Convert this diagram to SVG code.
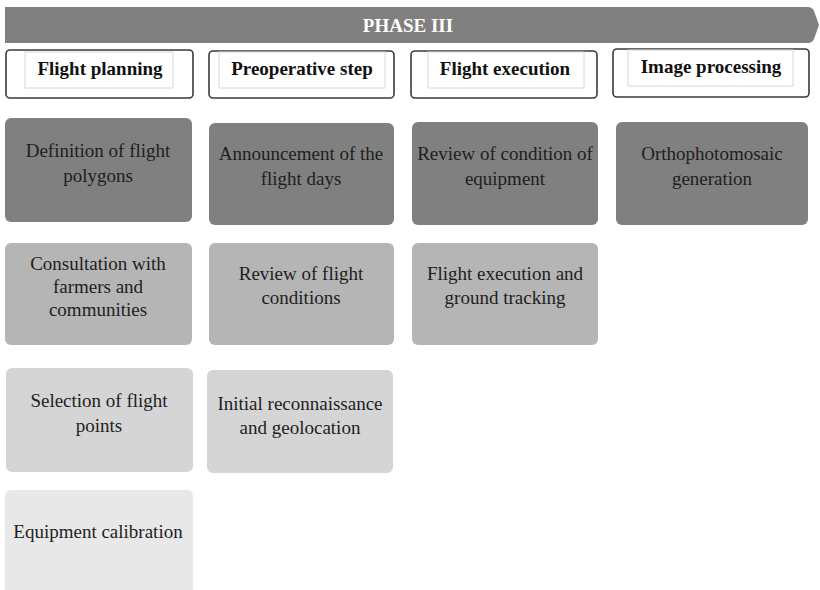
<svg xmlns="http://www.w3.org/2000/svg" width="820" height="590" viewBox="0 0 820 590">
<style>
.t{font-family:"Liberation Serif","Times New Roman",serif;font-size:19px;fill:#1e1e1e;text-anchor:middle}
.h{font-family:"Liberation Serif","Times New Roman",serif;font-size:19px;font-weight:bold;fill:#111;text-anchor:middle}
.hb{fill:#fff;stroke:#3a3a3a;stroke-width:1.6}
.hi{fill:none;stroke:#d8d8d8;stroke-width:1}
.r1{fill:#808080}
.r2{fill:#b5b5b5}
.r3{fill:#d5d5d5}
.r4{fill:#e8e8e8}
</style>
<rect width="820" height="590" fill="#fff"/>
<g id="phase">
<path d="M5 7 H808 Q812 7 814 11 L819 25 L814 39 Q812 43 808 43 H5 Z" fill="#808080"/>
<text x="408" y="32" font-family="Liberation Serif, serif" font-size="19" font-weight="bold" fill="#fff" text-anchor="middle">PHASE III</text>
</g>
<g id="h1"><rect class="hb" x="6" y="50" width="187" height="48" rx="4"/><rect class="hi" x="25" y="52" width="148" height="36"/><text class="h" x="100" y="75">Flight planning</text></g>
<g id="h2"><rect class="hb" x="209" y="51" width="185" height="47" rx="4"/><rect class="hi" x="219" y="52" width="166" height="36"/><text class="h" x="302" y="75">Preoperative step</text></g>
<g id="h3"><rect class="hb" x="411" y="51" width="186" height="47" rx="4"/><rect class="hi" x="428" y="52" width="156" height="36"/><text class="h" x="505" y="75">Flight execution</text></g>
<g id="h4"><rect class="hb" x="613" y="49" width="196" height="48" rx="4"/><rect class="hi" x="628" y="50" width="165" height="36"/><text class="h" x="711" y="73">Image processing</text></g>

<g id="n1"><rect class="r1" x="5" y="118" width="187" height="104" rx="6"/><text class="t" x="98" y="157">Definition of flight</text><text class="t" x="98" y="182">polygons</text></g>
<g id="n2"><rect class="r1" x="209" y="123" width="185" height="102" rx="6"/><text class="t" x="301" y="160">Announcement of the</text><text class="t" x="301" y="185">flight days</text></g>
<g id="n3"><rect class="r1" x="412" y="122" width="186" height="103" rx="6"/><text class="t" x="505" y="160">Review of condition of</text><text class="t" x="505" y="185">equipment</text></g>
<g id="n4"><rect class="r1" x="616" y="122" width="192" height="103" rx="6"/><text class="t" x="712" y="160">Orthophotomosaic</text><text class="t" x="712" y="185">generation</text></g>

<g id="n5"><rect class="r2" x="5" y="243" width="187" height="102" rx="6"/><text class="t" x="98" y="270">Consultation with</text><text class="t" x="98" y="293">farmers and</text><text class="t" x="98" y="316">communities</text></g>
<g id="n6"><rect class="r2" x="209" y="243" width="185" height="102" rx="6"/><text class="t" x="301" y="280">Review of flight</text><text class="t" x="301" y="304">conditions</text></g>
<g id="n7"><rect class="r2" x="412" y="243" width="186" height="102" rx="6"/><text class="t" x="505" y="280">Flight execution and</text><text class="t" x="505" y="304">ground tracking</text></g>

<g id="n8"><rect class="r3" x="6" y="368" width="187" height="104" rx="6"/><text class="t" x="99" y="407">Selection of flight</text><text class="t" x="99" y="432">points</text></g>
<g id="n9"><rect class="r3" x="207" y="370" width="186" height="103" rx="6"/><text class="t" x="300" y="410">Initial reconnaissance</text><text class="t" x="300" y="434">and geolocation</text></g>

<g id="n10"><rect class="r4" x="5" y="490" width="188" height="106" rx="6"/><text class="t" x="98" y="538">Equipment calibration</text></g>
<g id="connectors"></g>
</svg>
